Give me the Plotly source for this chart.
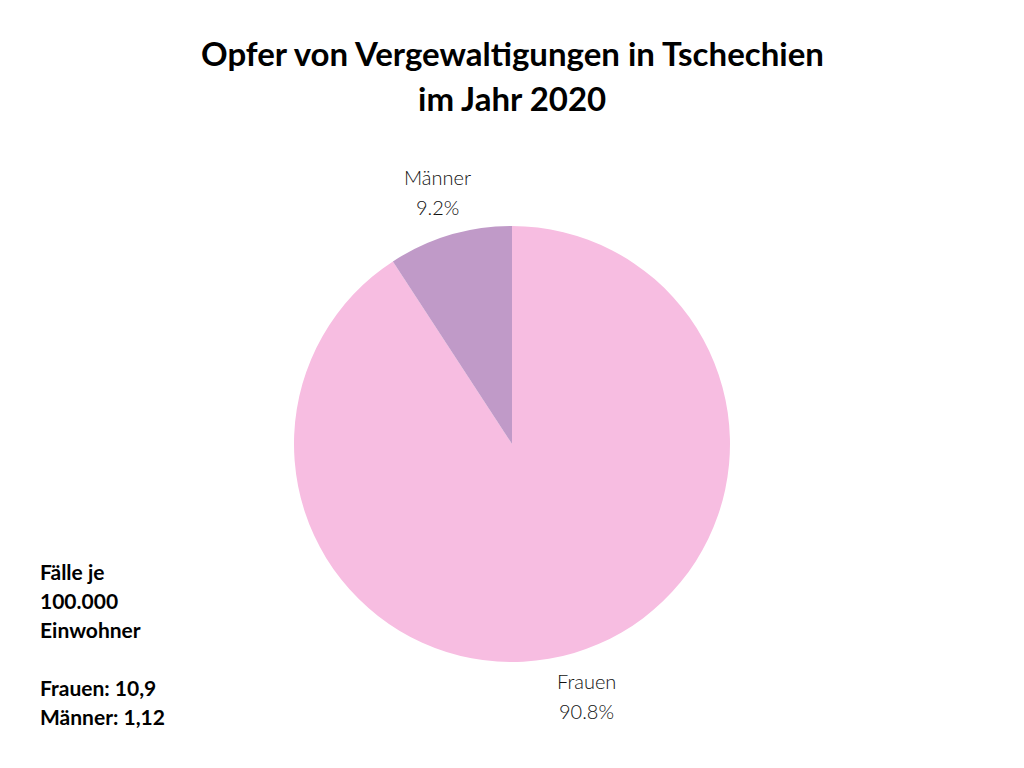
import math
import plotly.graph_objects as go

labels = ["Frauen", "Männer"]
values = [90.8, 9.2]
colors = ["#F7BDE1", "#C09AC8"]
title_lines = ["Opfer von Vergewaltigungen in Tschechien", "im Jahr 2020"]
note_lines = ["Fälle je", "100.000", "Einwohner", "", "Frauen: 10,9", "Männer: 1,12"]

W, H = 1024, 768
cx, cy, r = 512, 444, 218
label_r = 263

fig = go.Figure(go.Pie(
    labels=labels, values=values, sort=False, direction="clockwise", rotation=0,
    marker=dict(colors=colors, line=dict(width=0)),
    textinfo="none",
    domain=dict(x=[(cx - r) / W, (cx + r) / W], y=[1 - (cy + r) / H, 1 - (cy - r) / H]),
    showlegend=False, hoverinfo="skip",
))

annotations = []
title_y = [53, 98]
for line, yc in zip(title_lines, title_y):
    annotations.append(dict(text=line, x=0.5, y=1 - yc / H, xref="paper", yref="paper",
                            xanchor="center", yanchor="middle", showarrow=False,
                            font=dict(family="Lato", size=33, color="black", weight="bold")))

# slice labels outside the pie, at each slice's mid angle (clockwise from 12 o'clock)
total = sum(values)
cum = 0.0
for lab, val in zip(labels, values):
    mid = (cum + val / 2) / total * 2 * math.pi
    cum += val
    px = cx + label_r * math.sin(mid)
    py = cy - label_r * math.cos(mid)
    for txt, dy in ((lab, -15), (f"{val / total * 100:.1f}%", 15)):
        annotations.append(dict(text=txt, x=px / W, y=1 - (py + dy) / H,
                                xref="paper", yref="paper", xanchor="center", yanchor="middle",
                                showarrow=False,
                                font=dict(family="Lato", size=20, color="#111111", weight=300)))

note_y0, note_dy = 571, 29
for i, line in enumerate(note_lines):
    if not line:
        continue
    annotations.append(dict(text=line, x=38 / W, y=1 - (note_y0 + i * note_dy) / H,
                            xref="paper", yref="paper", xanchor="left", yanchor="middle",
                            showarrow=False,
                            font=dict(family="Lato", size=21, color="black", weight="bold")))

fig.update_layout(
    width=W, height=H, margin=dict(l=0, r=0, t=0, b=0),
    paper_bgcolor="white", plot_bgcolor="white",
    annotations=annotations,
)

fig.write_html("out.html")
